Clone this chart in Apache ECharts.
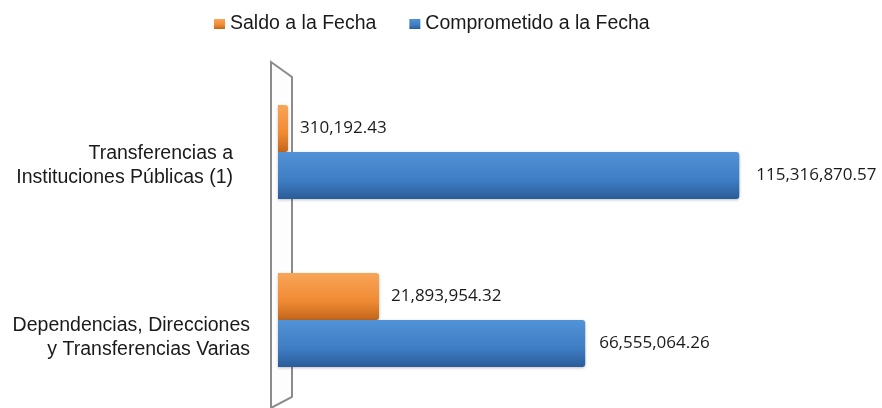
<!DOCTYPE html>
<html>
<head>
<meta charset="utf-8">
<script src="https://cdn.jsdelivr.net/npm/echarts@6/dist/echarts.min.js"></script>
<style>
  html, body { margin: 0; padding: 0; background: #fff; }
  #chart { width: 882px; height: 408px; }
</style>
</head>
<body>
<div id="chart"></div>
<script>
// datos
const categories = [
  ['Transferencias a', 'Instituciones Públicas (1)'],
  ['Dependencias, Direcciones', 'y Transferencias Varias']
];
const seriesNames = ['Saldo a la Fecha', 'Comprometido a la Fecha'];
const saldo = [310192.43, 21893954.32];
const comprometido = [115316870.57, 66555064.26];

// el original es 3D con perspectiva: cada fila tiene su propia escala
const axisMax = [150000000, 130000000];

const orange = new echarts.graphic.LinearGradient(0, 0, 0, 1, [
  { offset: 0, color: '#f8a558' },
  { offset: 0.6, color: '#f08a33' },
  { offset: 1, color: '#c2661b' }
]);
const blue = new echarts.graphic.LinearGradient(0, 0, 0, 1, [
  { offset: 0, color: '#5292d6' },
  { offset: 0.6, color: '#3f7dc4' },
  { offset: 1, color: '#2a5b98' }
]);

const fmt = v => v.toLocaleString('en-US', { minimumFractionDigits: 2, maximumFractionDigits: 2 });

const chart = echarts.init(document.getElementById('chart'));

const grids = [
  { left: 278, width: 600, top: 68, height: 168 },
  { left: 278, width: 600, top: 236, height: 168 }
];
const labelMargin = [45, 28];
const spacer = [28, 35];           // desplaza las etiquetas hacia abajo
const labelDist = [[12, 17], [12, 14]];

const xAxes = [], yAxes = [], series = [];
categories.forEach((cat, i) => {
  xAxes.push({ gridIndex: i, type: 'value', min: 0, max: axisMax[i], show: false });
  yAxes.push({
    gridIndex: i,
    type: 'category',
    data: [cat.join('\n')],
    axisLine: { show: false },
    axisTick: { show: false },
    axisLabel: {
      margin: labelMargin[i],
      formatter: v => '{s|}\n' + v.split('\n').map(l => '{t|' + l + '}').join('\n'),
      rich: {
        s: { height: spacer[i], lineHeight: spacer[i] },
        t: {
          color: '#1a1a1a',
          fontFamily: 'Liberation Sans',
          fontSize: 19.5,
          lineHeight: 24,
          align: 'right'
        }
      }
    }
  });
  [saldo, comprometido].forEach((vals, s) => {
    series.push({
      name: seriesNames[s],
      type: 'bar',
      xAxisIndex: i,
      yAxisIndex: i,
      data: [vals[i]],
      barWidth: 47,
      barGap: '0%',
      barMinHeight: 10,
      itemStyle: {
        color: s === 0 ? orange : blue,
        borderRadius: [0, 3, 3, 0],
        shadowColor: 'rgba(0,0,0,0.25)',
        shadowBlur: 3,
        shadowOffsetY: 1
      },
      label: {
        show: true,
        position: 'right',
        distance: labelDist[i][s],
        color: '#1a1a1a',
        fontFamily: 'Open Sans',
        fontSize: 17,
        formatter: p => fmt(p.value)
      }
    });
  });
});

chart.setOption({
  animation: false,
  legend: {
    left: 209,
    top: 9,
    icon: 'rect',
    itemWidth: 11,
    itemHeight: 10,
    itemGap: 33,
    data: seriesNames,
    textStyle: { fontFamily: 'Liberation Sans', fontSize: 19.5, color: '#1a1a1a' }
  },
  graphic: [{
    type: 'polygon',
    z: 0,
    shape: { points: [[271, 62], [292, 77], [292, 397], [271, 408]] },
    style: { fill: '#fdfdfd', stroke: '#8c8c8c', lineWidth: 2 }
  }],
  grid: grids,
  xAxis: xAxes,
  yAxis: yAxes,
  series: series
});
</script>
</body>
</html>
